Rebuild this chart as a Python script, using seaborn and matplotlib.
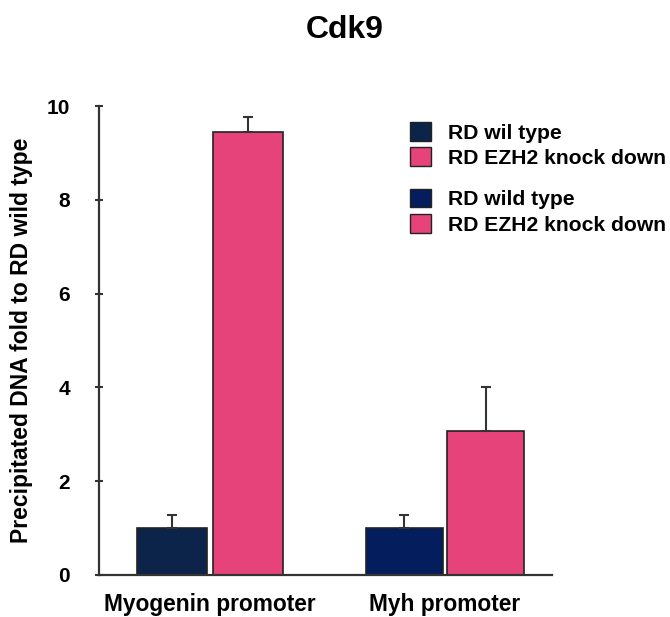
import matplotlib
matplotlib.use("Agg")
import matplotlib.pyplot as plt
import seaborn as sns
import pandas as pd
from matplotlib.patches import Patch

sns.set_style("white")
plt.rcParams["font.family"] = ["Liberation Sans", "DejaVu Sans"]
plt.rcParams["font.weight"] = "bold"
plt.rcParams["text.color"] = "black"
plt.rcParams["xtick.color"] = "black"
plt.rcParams["ytick.color"] = "black"
plt.rcParams["axes.labelcolor"] = "black"

promoters = ["Myogenin promoter", "Myh promoter"]
conditions = ["RD wild type", "RD EZH2 knock down"]
wild_type = [1.0, 1.0]
knock_down = [9.45, 3.08]
wild_type_err = [0.27, 0.27]
knock_down_err = [0.32, 0.92]

legend_labels_a = ["RD wil type", "RD EZH2 knock down"]
legend_labels_b = ["RD wild type", "RD EZH2 knock down"]

navy_a = "#0c2449"
navy_b = "#041d5c"
pink = "#e6437a"
group_colors = [[navy_a, pink], [navy_b, pink]]
group_widths = [0.64, 0.69]
group_gaps = [0.07, 0.05]

df = pd.DataFrame({
    "promoter": promoters * 2,
    "condition": [conditions[0]] * 2 + [conditions[1]] * 2,
    "value": wild_type + knock_down,
    "err": wild_type_err + knock_down_err,
})

fig = plt.figure(figsize=(6.7, 6.17), dpi=100)
ax = fig.add_axes([0.1478, 0.0681, 0.676, 0.760])

for i, prom in enumerate(promoters):
    sub = df[df["promoter"] == prom]
    n_before = len(ax.patches)
    sns.barplot(data=sub, x="promoter", y="value", hue="condition",
                order=promoters, hue_order=conditions,
                palette=group_colors[i], saturation=1,
                width=group_widths[i], gap=group_gaps[i], errorbar=None,
                edgecolor="#222222", linewidth=1.2, ax=ax, legend=False)
    for patch in ax.patches[n_before:]:
        h = patch.get_height()
        if h <= 0:
            continue
        cx = patch.get_x() + patch.get_width() / 2
        row = sub[abs(sub["value"] - h) < 1e-9].iloc[0]
        ax.errorbar(cx, h, yerr=[[0], [row["err"]]], fmt="none",
                    ecolor="#333333", elinewidth=1.5, capsize=3.6,
                    capthick=1.5, zorder=1)

ax.set_ylim(0, 10)
ax.set_xlim(-0.472, 1.455)
ax.set_yticks([0, 2, 4, 6, 8, 10])
ax.set_xlabel("")
ax.set_ylabel("Precipitated DNA fold to RD wild type", fontsize=16.5,
              fontweight="bold", labelpad=10)
ax.tick_params(axis="y", direction="inout", length=6, width=1.5,
               color="#333333", labelsize=15, pad=18, left=True)
ax.tick_params(axis="x", length=0, labelsize=16.4, pad=13)
for lab in ax.get_xticklabels() + ax.get_yticklabels():
    lab.set_fontweight("bold")

for side in ["top", "right"]:
    ax.spines[side].set_visible(False)
for side in ["left", "bottom"]:
    ax.spines[side].set_color("#333333")
    ax.spines[side].set_linewidth(1.6)

fig.text(0.514, 0.9384, "Cdk9", fontsize=23, fontweight="bold",
         ha="center", va="baseline")

handles_a = [Patch(facecolor=navy_a, edgecolor="#222222"),
             Patch(facecolor=pink, edgecolor="#222222")]
handles_b = [Patch(facecolor=navy_b, edgecolor="#222222"),
             Patch(facecolor=pink, edgecolor="#222222")]
leg_kw = dict(frameon=False, handlelength=1.0, handleheight=1.0,
              handletextpad=0.8, labelspacing=0.22, borderaxespad=0,
              borderpad=0, prop={"weight": "bold", "size": 15.2})
leg_a = ax.legend(handles_a, legend_labels_a, loc="upper left",
                  bbox_to_anchor=(0.687, 0.966), **leg_kw)
ax.add_artist(leg_a)
ax.legend(handles_b, legend_labels_b, loc="upper left",
          bbox_to_anchor=(0.687, 0.824), **leg_kw)

fig.savefig("out.png", dpi=100)
